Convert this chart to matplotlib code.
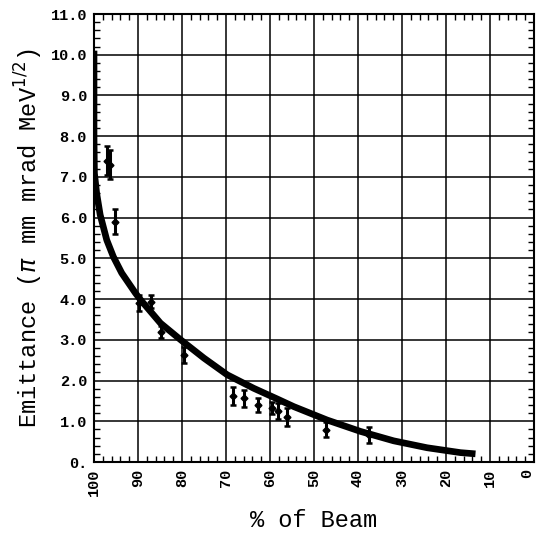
import matplotlib
matplotlib.use("Agg")
import matplotlib.pyplot as plt
from matplotlib.ticker import MultipleLocator

# measured data points
beam_pct = [97.0, 96.4, 95.2, 89.7, 87.0, 84.8, 79.5, 68.3, 65.9, 62.8, 59.5, 58.1, 56.2, 47.3, 37.5]
emit     = [7.40, 7.30, 5.90, 3.90, 3.94, 3.20, 2.62, 1.62, 1.56, 1.40, 1.32, 1.26, 1.11, 0.79, 0.66]
emit_err = [0.35, 0.35, 0.30, 0.20, 0.15, 0.15, 0.20, 0.22, 0.20, 0.18, 0.15, 0.20, 0.22, 0.18, 0.20]

# fitted curve
curve_pct  = [100.0, 100.0, 99.9, 99.4, 98.6, 97.1, 95.6, 93.7, 90.6, 89.4, 84.9, 80.3,
              75.0, 69.7, 63.7, 58.4, 54.6, 47.0, 39.4, 31.9, 24.3, 16.7, 13.3]
curve_emit = [10.1, 8.0, 7.09, 6.6, 6.07, 5.45, 5.04, 4.64, 4.15, 3.98, 3.41, 3.00,
              2.55, 2.14, 1.81, 1.55, 1.36, 1.03, 0.75, 0.52, 0.35, 0.23, 0.20]

x_ticks = [100, 90, 80, 70, 60, 50, 40, 30, 20, 10, 0]
x_labels = ["100", "90", "80", "70", "60", "50", "40", "30", "20", "10", "0"]
y_ticks = [0, 1, 2, 3, 4, 5, 6, 7, 8, 9, 10, 11]
y_labels = ["0.", "1.0", "2.0", "3.0", "4.0", "5.0", "6.0", "7.0", "8.0", "9.0", "10.0", "11.0"]

font = "Liberation Mono"

fig = plt.figure(figsize=(5.36, 5.46), dpi=100)
ax = fig.add_axes([94/536, 1-462/546, 440/536, 448/546])

ax.plot(curve_pct, curve_emit, color="black", lw=4.8, solid_capstyle="butt",
        solid_joinstyle="round", zorder=3)
ax.errorbar(beam_pct, emit, yerr=emit_err, fmt="D", ms=3.5, color="black",
            ecolor="black", elinewidth=2.2, capsize=2.5, capthick=1.8, zorder=4)

ax.set_xlim(100, 0)
ax.set_ylim(0, 11)
ax.set_xticks(x_ticks)
ax.set_xticklabels(x_labels, rotation=90, fontfamily=font, fontweight="bold", fontsize=11)
ax.get_xticklabels()[-1].set_horizontalalignment("right")
ax.set_yticks(y_ticks)
ax.set_yticklabels(y_labels, fontfamily=font, fontweight="bold", fontsize=11)
ax.xaxis.set_minor_locator(MultipleLocator(2))
ax.yaxis.set_minor_locator(MultipleLocator(0.2))
ax.tick_params(which="both", direction="in", top=True, right=True, color="black")
ax.tick_params(which="major", length=0, pad=5)
ax.tick_params(which="minor", length=4, width=1)
ax.grid(True, which="major", color="black", lw=1.1)
for s in ax.spines.values():
    s.set_linewidth(1.5)

ax.set_xlabel("% of Beam", fontfamily=font, fontsize=17, labelpad=9)
ax.set_ylabel(r"Emittance ($\pi$ mm mrad MeV$^{1/2}$)", fontfamily=font, fontsize=17, labelpad=4)

fig.savefig("out.png", dpi=100)
